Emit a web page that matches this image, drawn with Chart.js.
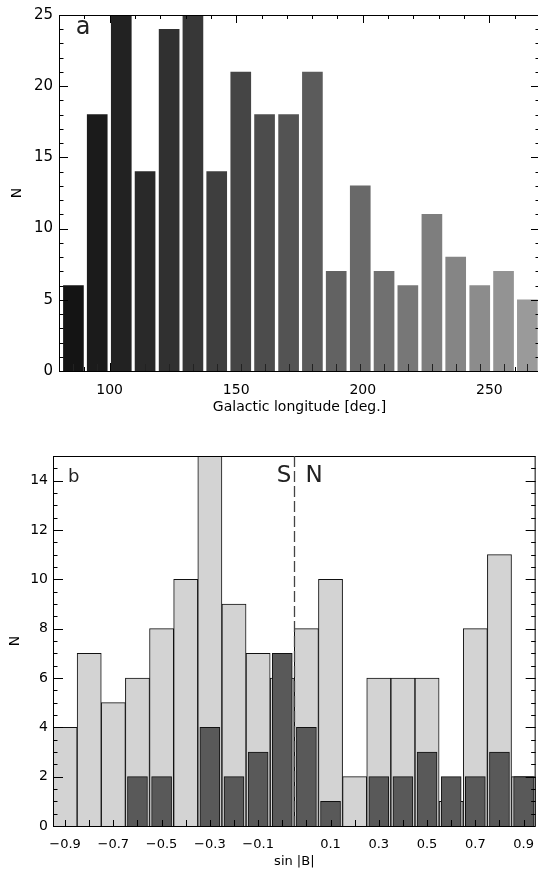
<!DOCTYPE html>
<html>
<head>
<meta charset="utf-8">
<script src="https://cdn.jsdelivr.net/npm/chart.js@4.4.1/dist/chart.umd.min.js"></script>
<style>
    html, body { margin: 0; padding: 0; background: #fff; overflow: hidden; width: 538px; height: 869px; }
    #topBox { position: absolute; left: 0; top: 0; width: 542px; height: 430px; }
    #botBox { position: absolute; left: 0; top: 430px; width: 545px; height: 439px; }
</style>
</head>
<body>
<div id="topBox"><canvas id="lonChart" width="542" height="430"></canvas></div>
<div id="botBox"><canvas id="latChart" width="545" height="439"></canvas></div>
<script>
// panel a: counts per galactic longitude bin (bin centres in degrees)
const lonCenters = [85.7, 95.1, 104.6, 114.0, 123.5, 132.9, 142.3, 151.8, 161.2, 170.7,
                    180.1, 189.5, 199.0, 208.4, 217.8, 227.3, 236.7, 246.2, 255.6, 265.0];
const lonCounts = [6, 18, 27, 14, 24, 26, 14, 21, 18, 18, 21, 7, 13, 7, 6, 11, 8, 6, 7, 5];

// panel b: counts per sin|b| bin (0.1 wide, -1 .. 1)
const sinLabels = ['\u22120.9', '', '\u22120.7', '', '\u22120.5', '', '\u22120.3', '', '\u22120.1', '',
                   '', '0.1', '', '0.3', '', '0.5', '', '0.7', '', '0.9'];
const sinAll = [4, 7, 5, 6, 8, 10, 15, 9, 7, 6, 8, 10, 2, 6, 6, 6, 1, 8, 11, 2];
const sinSub = [0, 0, 0, 2, 2, 0, 4, 2, 3, 7, 4, 1, 0, 2, 2, 3, 2, 2, 3, 2];

Chart.defaults.font.family = "'DejaVu Sans', sans-serif";
Chart.defaults.color = '#000';
Chart.defaults.animation = false;

function grey(i, n) {
    const g = Math.round(20 + (154 - 20) * i / (n - 1));
    return 'rgb(' + g + ',' + g + ',' + g + ')';
}

function line(ctx, x1, y1, x2, y2) {
    ctx.moveTo(x1, y1);
    ctx.lineTo(x2, y2);
}

const noGrid = {display: false, drawTicks: false};

const lonFrame = {
    id: 'lonFrame',
    beforeDatasetsDraw(chart) {
        const {ctx, chartArea: a, scales: {x}} = chart;
        ctx.save();
        ctx.strokeStyle = '#000';
        ctx.lineWidth = 1;
        ctx.beginPath();
        for (let v = 80; v <= 270; v += 10) {
            const px = Math.round(x.getPixelForValue(v)) + 0.5;
            line(ctx, px, a.bottom, px, a.bottom - (v % 50 === 0 ? 8 : 4));
        }
        ctx.stroke();
        ctx.restore();
    },
    afterDatasetsDraw(chart) {
        const {ctx, chartArea: a, scales: {x, y}} = chart;
        ctx.save();
        ctx.strokeStyle = '#000';
        ctx.lineWidth = 1;
        ctx.beginPath();
        ctx.rect(a.left + 0.5, a.top + 0.5, a.right - a.left - 1, a.bottom - a.top);
        for (let v = 0; v <= 25; v++) {
            const py = Math.round(y.getPixelForValue(v)) + 0.5;
            const len = v % 5 === 0 ? 9 : 4.5;
            line(ctx, a.left, py, a.left + len, py);
            line(ctx, a.right, py, a.right - len, py);
        }
        for (let v = 80; v <= 270; v += 10) {
            const px = Math.round(x.getPixelForValue(v)) + 0.5;
            line(ctx, px, a.top, px, a.top + (v % 50 === 0 ? 8 : 4));
        }
        ctx.stroke();
        // ticks at the bar centres
        ctx.strokeStyle = '#222';
        ctx.beginPath();
        lonCenters.forEach(c => {
            const px = Math.round(x.getPixelForValue(c)) + 0.5;
            line(ctx, px, a.bottom, px, a.bottom - 7);
        });
        ctx.stroke();
        ctx.fillStyle = '#222';
        ctx.font = "24px 'DejaVu Sans'";
        ctx.textAlign = 'center';
        ctx.textBaseline = 'alphabetic';
        ctx.fillText('a', 83, 33.5);
        ctx.restore();
    }
};

const latFrame = {
    id: 'latFrame',
    afterDatasetsDraw(chart) {
        const {ctx, chartArea: a, scales: {x, y}} = chart;
        ctx.save();
        ctx.strokeStyle = '#000';
        ctx.lineWidth = 1;
        ctx.beginPath();
        ctx.rect(a.left + 0.5, a.top + 0.5, a.right - a.left - 1, a.bottom - a.top);
        for (let v = 0; v <= 15; v += 0.5) {
            const py = Math.round(y.getPixelForValue(v)) + 0.5;
            const len = v % 2 === 0 ? 10 : 4.5;
            line(ctx, a.left, py, a.left + len, py);
            line(ctx, a.right, py, a.right - len, py);
        }
        sinLabels.forEach((_, i) => {
            const px = Math.round(x.getPixelForValue(i)) + 0.5;
            line(ctx, px, a.bottom, px, a.bottom - 6);
        });
        ctx.stroke();
        // S / N divider at sin|b| = 0
        const mid = Math.round(x.getPixelForValue(sinLabels.length / 2 - 0.5)) + 0.5;
        ctx.strokeStyle = '#444';
        ctx.lineWidth = 1.3;
        ctx.setLineDash([11, 4]);
        ctx.beginPath();
        line(ctx, mid, a.top, mid, a.bottom);
        ctx.stroke();
        ctx.setLineDash([]);
        ctx.fillStyle = '#222';
        ctx.textBaseline = 'alphabetic';
        ctx.textAlign = 'left';
        ctx.font = "18px 'DejaVu Sans'";
        ctx.fillText('b', 68, 51.7);
        ctx.textAlign = 'center';
        ctx.font = "23px 'DejaVu Sans'";
        ctx.fillText('S', 284, 51.7);
        ctx.fillText('N', 314, 51.7);
        ctx.restore();
    }
};

new Chart(document.getElementById('lonChart'), {
    type: 'bar',
    data: {
        datasets: [{
            data: lonCenters.map((c, i) => ({x: c, y: lonCounts[i]})),
            backgroundColor: lonCounts.map((_, i) => grey(i, lonCounts.length)),
            borderWidth: 0,
            barThickness: 20
        }]
    },
    options: {
        responsive: false,
        devicePixelRatio: 1,
        layout: {padding: {top: 8, right: 2, left: 0, bottom: 0}},
        plugins: {legend: {display: false}, tooltip: {enabled: false}},
        scales: {
            x: {
                type: 'linear',
                min: 80,
                max: 270,
                offset: false,
                grid: noGrid,
                border: {display: false},
                ticks: {stepSize: 50, includeBounds: false, padding: 11, font: {size: 14}, maxRotation: 0},
                title: {display: true, text: 'Galactic longitude [deg.]', font: {size: 14}, padding: {top: 0, bottom: 14}},
                afterFit: s => { s.height = 59; }
            },
            y: {
                min: 0,
                max: 25,
                grid: noGrid,
                border: {display: false},
                ticks: {stepSize: 5, padding: 6, font: {size: 15}},
                title: {display: true, text: 'N', font: {size: 14}, padding: {top: 8.6, bottom: 0}},
                afterFit: s => { s.width = 59; }
            }
        }
    },
    plugins: [lonFrame]
});

new Chart(document.getElementById('latChart'), {
    type: 'bar',
    data: {
        labels: sinLabels,
        datasets: [{
            data: sinSub,
            backgroundColor: '#595959',
            borderColor: '#111',
            borderWidth: 1,
            barThickness: 20,
            grouped: false,
            order: 0
        }, {
            data: sinAll,
            backgroundColor: '#d3d3d3',
            borderColor: '#111',
            borderWidth: 1,
            barPercentage: 1,
            categoryPercentage: 1,
            grouped: false,
            order: 1
        }]
    },
    options: {
        responsive: false,
        devicePixelRatio: 1,
        layout: {padding: {top: 26, right: 3, left: 0, bottom: 0}},
        plugins: {legend: {display: false}, tooltip: {enabled: false}},
        scales: {
            x: {
                offset: true,
                grid: noGrid,
                border: {display: false},
                ticks: {autoSkip: false, maxRotation: 0, padding: 11, font: {size: 13}},
                title: {display: true, text: 'sin |B|', font: {size: 13}, padding: {top: 0, bottom: 0}},
                afterFit: s => { s.height = 43; }
            },
            y: {
                min: 0,
                max: 15,
                grid: noGrid,
                border: {display: false},
                ticks: {stepSize: 2, includeBounds: false, padding: 5, font: {size: 14}},
                title: {display: true, text: 'N', font: {size: 14}, padding: {top: 6.6, bottom: 0}},
                afterFit: s => { s.width = 53; }
            }
        }
    },
    plugins: [latFrame]
});
</script>
</body>
</html>
